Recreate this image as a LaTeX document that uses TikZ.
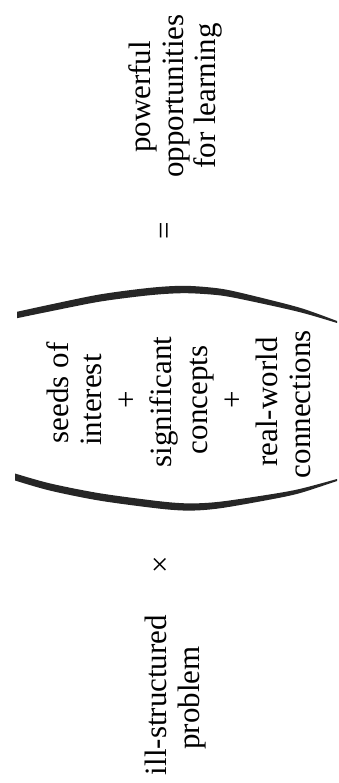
\documentclass[tikz,border=0pt]{standalone}
\usepackage{fontspec}
\setmainfont{Liberation Serif}
\begin{document}
\begin{tikzpicture}[x=1pt,y=-1pt,
  txt/.style={rotate=90,anchor=base,inner sep=0pt,font=\fontsize{31}{35}\selectfont},
  sym/.style={rotate=90,anchor=center,inner sep=0pt,font=\fontsize{31}{35}\selectfont},
  brush/.style={fill=black!85}]
\useasboundingbox (0,0) rectangle (338,783);
% left group
\node[txt] (l1) at (166,695) {ill-structured};
\node[txt] (l2) at (199,698) {problem};
% times
\node[sym] (times) at (162,565) {×};
% middle group
\node[txt] (m1) at (68,393) {seeds of};
\node[txt] (m2) at (101,400) {interest};
\node[txt] (m3) at (136,400) {+};
\node[txt] (m4) at (171,402) {significant};
\node[txt] (m5) at (207,400) {concepts};
\node[txt] (m6) at (242,400) {+};
\node[txt] (m7) at (277,402) {real-world};
\node[txt] (m8) at (310,404) {connections};
% brackets
\fill[brush] plot[smooth] coordinates {(17,311.8) (50,304.6) (100,294.4) (150,287.8) (185,285.8) (220,288.6) (250,295) (300,307.8) (337,321)}
  -- plot[smooth] coordinates {(337,323) (300,312.2) (250,301) (220,295.4) (185,293.2) (150,295.2) (100,301.6) (50,311.4) (17,318.2)} -- cycle;
\fill[brush] plot[smooth] coordinates {(15,473.5) (50,483.4) (100,493.3) (160,501.3) (190,503.4) (220,501.7) (270,494.4) (300,488.9) (337,479)}
  -- plot[smooth] coordinates {(337,481) (300,493.1) (270,499.6) (220,508.3) (190,510.6) (160,508.7) (100,500.7) (50,490.6) (15,480.5)} -- cycle;
% equals
\node[sym] (equals) at (167.5,230.5) {=};
% right group
\node[txt] (r1) at (150,97) {powerful};
\node[txt] (r2) at (183,96) {opportunities};
\node[txt] (r3) at (215,96) {for learning};
\end{tikzpicture}
\end{document}
